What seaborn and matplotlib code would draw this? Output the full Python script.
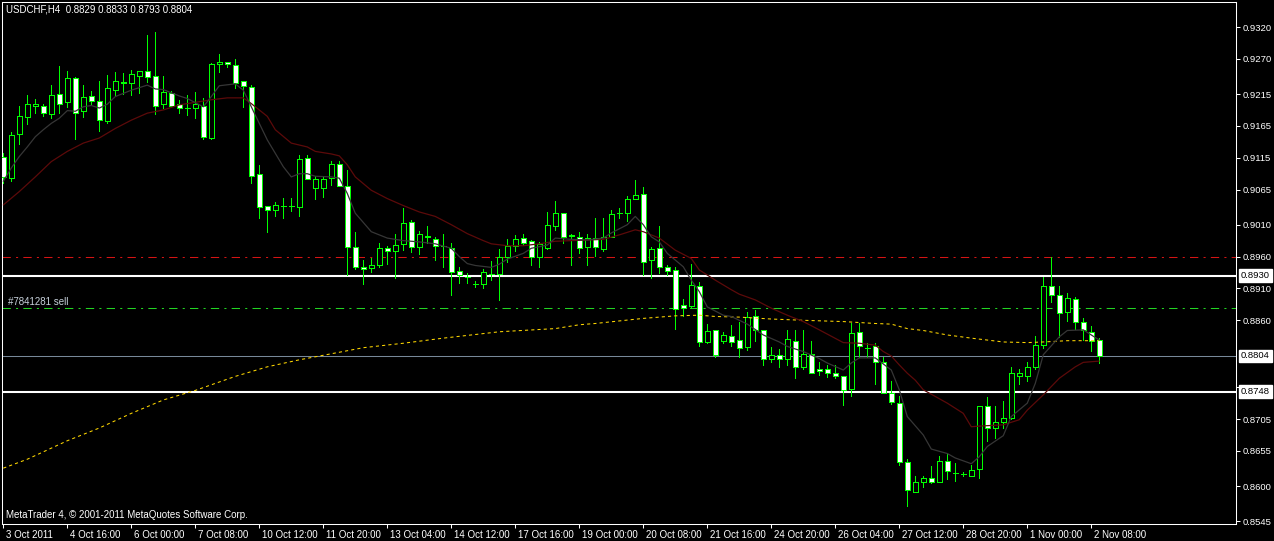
import numpy as np
import matplotlib
matplotlib.use("Agg")
import matplotlib.pyplot as plt
import matplotlib.transforms as mtransforms
import seaborn as sns

# ---------------- data ----------------
title_text = "USDCHF,H4  0.8829 0.8833 0.8793 0.8804"
footer_text = "MetaTrader 4, \u00a9 2001-2011 MetaQuotes Software Corp."
order_text = "#7841281 sell"

opens = [0.9116, 0.9084, 0.9152, 0.9179, 0.9197, 0.9196, 0.9184, 0.9215, 0.9202, 0.9240,
         0.9188, 0.9212, 0.9204, 0.9172, 0.9222, 0.9233, 0.9233, 0.9244, 0.9251, 0.9244,
         0.9199, 0.9217, 0.9199, 0.9193, 0.9193, 0.9197, 0.9146, 0.9262, 0.9265, 0.9260,
         0.9235, 0.9226, 0.9089, 0.9039, 0.9033, 0.9040, 0.9040, 0.9038, 0.9114, 0.9067,
         0.9068, 0.9083, 0.9105, 0.9071, 0.8975, 0.8943, 0.8942, 0.8947, 0.8973, 0.8969,
         0.8979, 0.9014, 0.8975, 0.8993, 0.8988, 0.8976, 0.8974, 0.8937, 0.8928, 0.8917,
         0.8917, 0.8933, 0.8932, 0.8959, 0.8977, 0.8989, 0.8984, 0.8959, 0.8973, 0.9008,
         0.9028, 0.8993, 0.8991, 0.8975, 0.8989, 0.8972, 0.8991, 0.9028, 0.9028, 0.9051,
         0.9058, 0.8954, 0.8973, 0.8943, 0.8939, 0.8884, 0.8882, 0.8914, 0.8826, 0.8844,
         0.8828, 0.8835, 0.8829, 0.8818, 0.8866, 0.8845, 0.8799, 0.8805, 0.8800, 0.8828,
         0.8786, 0.8807, 0.8783, 0.8783, 0.8777, 0.8773, 0.8752, 0.8841, 0.8817, 0.8819,
         0.8794, 0.8746, 0.8731, 0.8638, 0.8591, 0.8607, 0.8612, 0.8607, 0.8639, 0.8621,
         0.8619, 0.8616, 0.8626, 0.8725, 0.8691, 0.8701, 0.8706, 0.8772, 0.8772, 0.8787,
         0.8821, 0.8914, 0.8900, 0.8873, 0.8893, 0.8857, 0.8842, 0.8829]
highs = [0.9122, 0.9155, 0.9196, 0.9214, 0.9207, 0.9200, 0.9229, 0.9259, 0.9251, 0.9241,
         0.9229, 0.9219, 0.9236, 0.9245, 0.9249, 0.9248, 0.9253, 0.9251, 0.9308, 0.9313,
         0.9243, 0.9219, 0.9206, 0.9213, 0.9218, 0.9209, 0.9263, 0.9278, 0.9265, 0.9270,
         0.9235, 0.9229, 0.9104, 0.9039, 0.9046, 0.9052, 0.9052, 0.9119, 0.9119, 0.9087,
         0.9087, 0.9110, 0.9110, 0.9096, 0.8998, 0.8954, 0.8957, 0.8981, 0.8977, 0.8995,
         0.9036, 0.9017, 0.9000, 0.9008, 0.8990, 0.8995, 0.8981, 0.8944, 0.8934, 0.8922,
         0.8940, 0.8953, 0.8972, 0.8988, 0.8994, 0.8995, 0.8986, 0.8983, 0.9030, 0.9047,
         0.9028, 0.8995, 0.8999, 0.8995, 0.9020, 0.9020, 0.9033, 0.9036, 0.9055, 0.9080,
         0.9069, 0.8975, 0.9008, 0.8947, 0.8944, 0.8893, 0.8949, 0.8920, 0.8854, 0.8845,
         0.8842, 0.8853, 0.8857, 0.8873, 0.8876, 0.8845, 0.8818, 0.8815, 0.8845, 0.8845,
         0.8845, 0.8827, 0.8794, 0.8790, 0.8790, 0.8773, 0.8856, 0.8856, 0.8825, 0.8824,
         0.8802, 0.8765, 0.8742, 0.8642, 0.8616, 0.8616, 0.8631, 0.8647, 0.8652, 0.8636,
         0.8622, 0.8633, 0.8726, 0.8740, 0.8725, 0.8733, 0.8787, 0.8784, 0.8794, 0.8835,
         0.8928, 0.8960, 0.8914, 0.8903, 0.8896, 0.8863, 0.8851, 0.8833]
lows = [0.9075, 0.9079, 0.9136, 0.9168, 0.9186, 0.9180, 0.9178, 0.9185, 0.9195, 0.9144,
        0.9179, 0.9199, 0.9157, 0.9169, 0.9213, 0.9215, 0.9213, 0.9216, 0.9234, 0.9183,
        0.9193, 0.9194, 0.9185, 0.9182, 0.9178, 0.9144, 0.9144, 0.9250, 0.9257, 0.9224,
        0.9195, 0.9075, 0.9020, 0.8999, 0.9023, 0.9021, 0.9032, 0.9024, 0.9081, 0.9050,
        0.9054, 0.9072, 0.9071, 0.8931, 0.8940, 0.8917, 0.8935, 0.8944, 0.8949, 0.8926,
        0.8971, 0.8967, 0.8964, 0.8981, 0.8954, 0.8944, 0.8900, 0.8918, 0.8919, 0.8913,
        0.8910, 0.8923, 0.8892, 0.8952, 0.8968, 0.8978, 0.8946, 0.8943, 0.8972, 0.9002,
        0.8981, 0.8946, 0.8966, 0.8947, 0.8961, 0.8969, 0.8990, 0.9020, 0.9016, 0.9050,
        0.8931, 0.8927, 0.8934, 0.8931, 0.8846, 0.8867, 0.8880, 0.8820, 0.8824, 0.8802,
        0.8824, 0.8820, 0.8803, 0.8813, 0.8828, 0.8790, 0.8794, 0.8787, 0.8790, 0.8770,
        0.8783, 0.8777, 0.8774, 0.8771, 0.8770, 0.8727, 0.8741, 0.8803, 0.8802, 0.8760,
        0.8746, 0.8728, 0.8633, 0.8568, 0.8590, 0.8598, 0.8605, 0.8606, 0.8611, 0.8608,
        0.8616, 0.8615, 0.8612, 0.8671, 0.8676, 0.8691, 0.8705, 0.8760, 0.8764, 0.8784,
        0.8817, 0.8888, 0.8834, 0.8859, 0.8847, 0.8829, 0.8812, 0.8793]
closes = [0.9085, 0.9151, 0.9181, 0.9200, 0.9199, 0.9186, 0.9213, 0.9200, 0.9240, 0.9186,
          0.9210, 0.9204, 0.9174, 0.9224, 0.9235, 0.9234, 0.9246, 0.9251, 0.9242, 0.9197,
          0.9218, 0.9197, 0.9193, 0.9193, 0.9199, 0.9147, 0.9262, 0.9265, 0.9262, 0.9233,
          0.9227, 0.9087, 0.9037, 0.9033, 0.9041, 0.9040, 0.9040, 0.9113, 0.9081, 0.9081,
          0.9081, 0.9106, 0.9071, 0.8975, 0.8943, 0.8940, 0.8947, 0.8973, 0.8968, 0.8978,
          0.9012, 0.8975, 0.8995, 0.8990, 0.8977, 0.8976, 0.8935, 0.8931, 0.8928, 0.8917,
          0.8935, 0.8933, 0.8960, 0.8977, 0.8987, 0.8982, 0.8959, 0.8980, 0.9010, 0.9028,
          0.8991, 0.8993, 0.8973, 0.8989, 0.8975, 0.8990, 0.9026, 0.9028, 0.9051, 0.9056,
          0.8952, 0.8972, 0.8943, 0.8938, 0.8877, 0.8880, 0.8915, 0.8826, 0.8843, 0.8805,
          0.8837, 0.8826, 0.8817, 0.8865, 0.8844, 0.8799, 0.8805, 0.8799, 0.8830, 0.8786,
          0.8807, 0.8778, 0.8780, 0.8777, 0.8772, 0.8750, 0.8840, 0.8819, 0.8817, 0.8794,
          0.8746, 0.8732, 0.8637, 0.8594, 0.8606, 0.8612, 0.8606, 0.8639, 0.8623, 0.8621,
          0.8619, 0.8625, 0.8726, 0.8691, 0.8700, 0.8706, 0.8777, 0.8777, 0.8786, 0.8821,
          0.8914, 0.8899, 0.8871, 0.8895, 0.8857, 0.8845, 0.8828, 0.8804]

# fast moving average (dark grey), read at bar numbers
ma_fast_bars = [0, 1, 2, 3, 4, 5, 6, 7, 8, 9, 10, 11, 12, 13, 14, 16, 18, 19, 20, 22,
                23, 25, 26, 27, 29, 30, 31, 32, 33, 34, 35, 36, 37, 38, 39, 41, 42, 43, 44, 46,
                48, 50, 52, 54, 56, 57, 58, 59, 61, 62, 63, 65, 66, 68, 69, 71, 73, 75, 76, 78,
                79, 80, 81, 82, 83, 85, 86, 87, 88, 90, 91, 93, 95, 97, 98, 100, 102, 103, 105, 106,
                107, 109, 111, 112, 113, 115, 116, 118, 119, 121, 122, 123, 125, 126, 128, 129, 130, 132, 133, 135,
                136, 137]
ma_fast_vals = [0.9078, 0.9099, 0.9117, 0.9132, 0.9148, 0.9159, 0.9169, 0.9177, 0.9189, 0.9188,
                0.9195, 0.9197, 0.9193, 0.9199, 0.9211, 0.9221, 0.9229, 0.9223, 0.9222, 0.9212,
                0.9208, 0.9195, 0.9211, 0.9228, 0.9231, 0.9221, 0.9195, 0.9169, 0.9143, 0.9122,
                0.9101, 0.9085, 0.9090, 0.9090, 0.9086, 0.9085, 0.9083, 0.9059, 0.9028, 0.8999,
                0.8989, 0.8985, 0.8983, 0.8980, 0.8973, 0.8960, 0.8949, 0.8946, 0.8943, 0.8948,
                0.8956, 0.8965, 0.8973, 0.8978, 0.8989, 0.8987, 0.8986, 0.8989, 0.8997, 0.9010,
                0.9023, 0.9010, 0.8991, 0.8983, 0.8965, 0.8944, 0.8923, 0.8905, 0.8881, 0.8868,
                0.8866, 0.8854, 0.8837, 0.8826, 0.8819, 0.8811, 0.8800, 0.8793, 0.8782, 0.8793,
                0.8801, 0.8801, 0.8782, 0.8751, 0.8709, 0.8680, 0.8658, 0.8651, 0.8644, 0.8635,
                0.8646, 0.8662, 0.8679, 0.8709, 0.8730, 0.8761, 0.8806, 0.8834, 0.8844, 0.8845,
                0.8837, 0.8829]

# medium moving average (dark red)
ma_mid_bars = [0, 2, 4, 6, 8, 10, 12, 14, 16, 18, 20, 22, 26, 28, 30, 31, 33, 34, 36, 38,
               39, 41, 42, 43, 44, 46, 48, 50, 52, 54, 56, 58, 60, 61, 63, 65, 67, 69, 71, 73,
               75, 77, 79, 80, 82, 84, 86, 87, 89, 91, 92, 94, 96, 98, 100, 102, 105, 107, 109, 110,
               111, 112, 113, 114, 115, 118, 120, 121, 122, 125, 127, 128, 130, 132, 134, 135, 137]
ma_mid_vals = [0.9041, 0.9062, 0.9085, 0.9109, 0.9125, 0.9138, 0.9146, 0.9161, 0.9174, 0.9185,
               0.9190, 0.9198, 0.9206, 0.9209, 0.9209, 0.9200, 0.9180, 0.9159, 0.9138, 0.9132,
               0.9125, 0.9121, 0.9118, 0.9104, 0.9085, 0.9064, 0.9051, 0.9040, 0.9030, 0.9023,
               0.9010, 0.8996, 0.8985, 0.8980, 0.8977, 0.8977, 0.8980, 0.8984, 0.8985, 0.8986,
               0.8987, 0.8994, 0.9002, 0.8999, 0.8989, 0.8970, 0.8957, 0.8939, 0.8923, 0.8908,
               0.8901, 0.8892, 0.8879, 0.8868, 0.8858, 0.8845, 0.8825, 0.8824, 0.8821, 0.8811,
               0.8804, 0.8790, 0.8777, 0.8766, 0.8751, 0.8730, 0.8714, 0.8693, 0.8694, 0.8696,
               0.8704, 0.8719, 0.8743, 0.8769, 0.8787, 0.8794, 0.8796]

# slow moving average (yellow dotted)
ma_slow_bars = [0, 3, 8, 12, 16, 20, 24, 29, 33, 37, 45, 50, 55, 62, 69, 72, 74, 77, 80, 84,
                87, 89, 92, 96, 100, 105, 109, 111, 113, 115, 118, 121, 125, 128, 130, 133, 137]
ma_slow_vals = [0.8628, 0.8642, 0.8671, 0.8691, 0.8714, 0.8735, 0.8750, 0.8772, 0.8787, 0.8798,
                0.8817, 0.8824, 0.8832, 0.8842, 0.8847, 0.8853, 0.8855, 0.8859, 0.8863, 0.8867,
                0.8868, 0.8866, 0.8865, 0.8862, 0.8860, 0.8858, 0.8855, 0.8854, 0.8847, 0.8844,
                0.8837, 0.8832, 0.8826, 0.8825, 0.8826, 0.8828, 0.8828]

x_tick_bars = [0, 8, 16, 24, 32, 40, 48, 56, 64, 72, 80, 88, 96, 104, 112, 120, 128, 136]
x_tick_labels = ["3 Oct 2011", "4 Oct 16:00", "6 Oct 00:00", "7 Oct 08:00", "10 Oct 12:00",
                 "11 Oct 20:00", "13 Oct 04:00", "14 Oct 12:00", "17 Oct 16:00", "19 Oct 00:00",
                 "20 Oct 08:00", "21 Oct 16:00", "24 Oct 20:00", "26 Oct 04:00", "27 Oct 12:00",
                 "28 Oct 20:00", "1 Nov 00:00", "2 Nov 08:00"]
y_tick_values = [0.9320, 0.9270, 0.9215, 0.9165, 0.9115, 0.9065, 0.9010, 0.8960, 0.8910,
                 0.8860, 0.8755, 0.8705, 0.8655, 0.8600, 0.8545]

level_resistance = 0.8930
level_support = 0.8748
level_bid = 0.8804
level_stop = 0.8960
level_order = 0.8879
highlight_levels = [level_resistance, level_bid, level_support]

# ---------------- style ----------------
sns.set_style("dark", {"axes.facecolor": "black", "figure.facecolor": "black",
                       "axes.edgecolor": "white", "text.color": "white",
                       "xtick.color": "white", "ytick.color": "white"})
plt.rcParams["font.family"] = ["Liberation Sans", "DejaVu Sans"]

LIME = "#00ff00"
W, H = 1274, 541
L, R, T, B = 2, 1236, 2, 524

fig = plt.figure(figsize=(W / 100, H / 100), dpi=100, facecolor="black")
ax = fig.add_axes([L / W, 1 - B / H, (R - L) / W, (B - T) / H])
ax.set_facecolor("black")

o = np.array(opens)
h = np.array(highs)
lo = np.array(lows)
c = np.array(closes)
idx = np.arange(len(o))
bear = c < o

# horizontal objects
ax.axhline(level_resistance, color="white", lw=1.5, zorder=2)
ax.axhline(level_support, color="white", lw=1.5, zorder=2)
ax.axhline(level_bid, color="#778899", lw=0.75, zorder=2)
ax.axhline(level_stop, color="#d41414", lw=0.75, ls=(0, (8, 5, 2, 5)), zorder=2)
ax.axhline(level_order, color="#22d422", lw=0.75, ls=(0, (8, 5, 2, 5)), zorder=2)

# candles
ax.vlines(idx, lo, h, color=LIME, lw=0.7, zorder=3, antialiased=False)
body_bottom = np.minimum(o, c)
body_h = np.maximum(np.abs(c - o), 0.00001)
fills = ["white" if b else "black" for b in bear]
ax.bar(idx, body_h, bottom=body_bottom, width=0.6, color=fills, edgecolor=LIME,
       linewidth=0.5, zorder=4, antialiased=False)

# moving averages
sns.lineplot(x=ma_slow_bars, y=ma_slow_vals, ax=ax, color="#ffd700", lw=0.75, zorder=5)
ax.lines[-1].set_linestyle((0, (3, 3)))
sns.lineplot(x=ma_mid_bars, y=ma_mid_vals, ax=ax, color="#5c0a0a", lw=0.9, zorder=5)
sns.lineplot(x=ma_fast_bars, y=ma_fast_vals, ax=ax, color="#363636", lw=0.9, zorder=5)

ax.set_xlim(-0.1625, 154.09)
ax.set_ylim(0.85404, 0.93594)
ax.set_xlabel("")
ax.set_ylabel("")
ax.grid(False)
for s in ax.spines.values():
    s.set_color("white")
    s.set_linewidth(0.75)

# y axis on the right
ax.yaxis.tick_right()
ax.set_yticks(y_tick_values)
ax.set_yticklabels([f"{v:.4f}" for v in y_tick_values])
ax.tick_params(axis="y", right=True, left=False, colors="white", length=3, width=0.75,
               pad=2, labelsize=6.8, direction="out")

# x axis
ax.set_xticks(x_tick_bars)
ax.set_xticklabels(x_tick_labels, ha="left")
ax.tick_params(axis="x", bottom=True, colors="white", length=3, width=0.75, pad=1.5,
               labelsize=7, direction="out")
shift = mtransforms.ScaledTranslation(3 / 100, 0, fig.dpi_scale_trans)
for lab in ax.get_xticklabels():
    lab.set_transform(lab.get_transform() + shift)

# highlighted price boxes (drawn over the regular labels, as in the terminal)
box_tr = ax.get_yaxis_transform() + mtransforms.ScaledTranslation(5 / 100, 0, fig.dpi_scale_trans)
for lv in highlight_levels:
    ax.text(1.0, lv, f"{lv:.4f}", transform=box_tr, ha="left", va="center", color="black",
            fontsize=6.8, zorder=10, clip_on=False,
            bbox=dict(boxstyle="square,pad=0.18", fc="white", ec="white"))

# order label
order_tr = mtransforms.blended_transform_factory(ax.transAxes, ax.transData) + \
    mtransforms.ScaledTranslation(0, 6 / 100, fig.dpi_scale_trans)
ax.text(6 / (R - L), level_order, order_text, transform=order_tr, ha="left", va="center",
        color="#c8d2dc", fontsize=7, zorder=6)

fig.text(6 / W, 1 - 10 / H, title_text, color="white", fontsize=7, ha="left", va="center")
fig.text(6 / W, 1 - 515 / H, footer_text, color="white", fontsize=7, ha="left", va="center")

fig.savefig("out.png", dpi=100, facecolor="black")
